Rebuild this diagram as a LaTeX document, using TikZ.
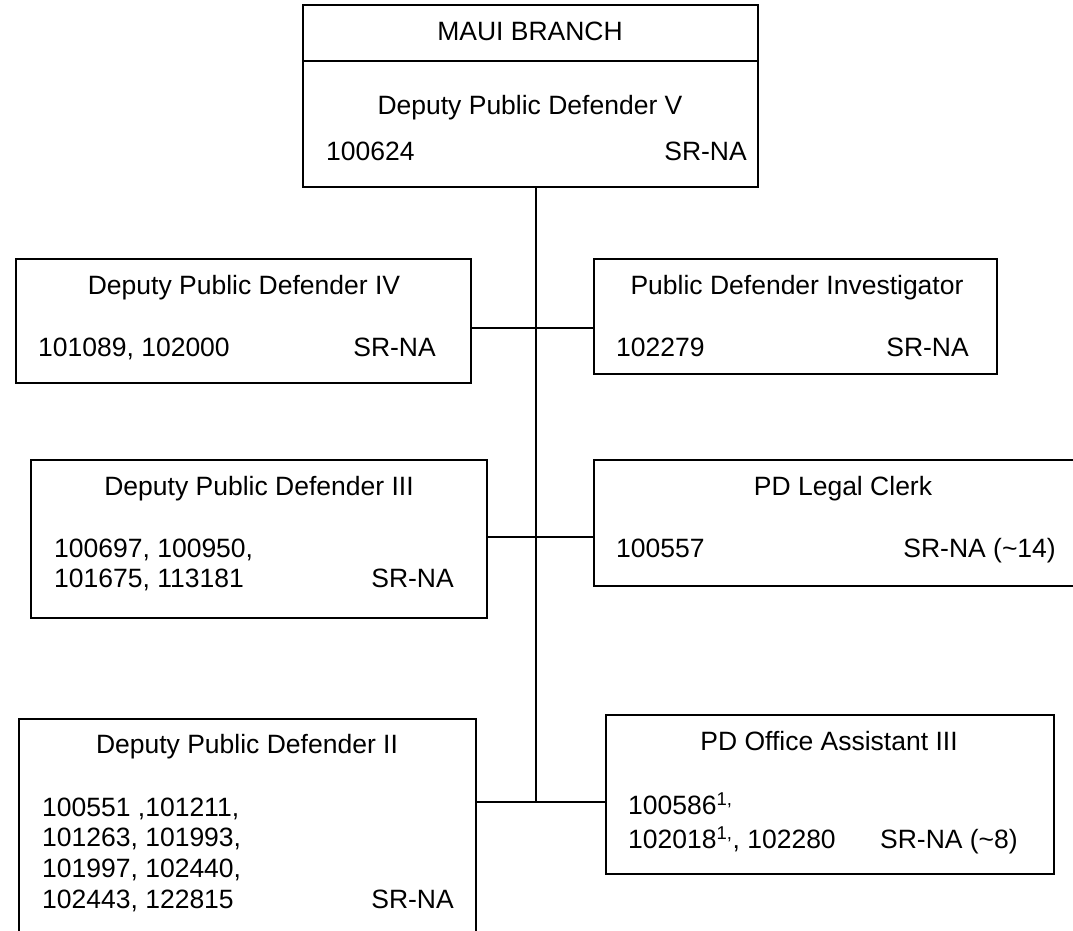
\documentclass[tikz,border=0pt]{standalone}
\usepackage{fontspec}
\setmainfont{Liberation Sans}
\usepackage{tikz}

\tikzset{
  post/.style={draw, line width=2pt, inner sep=0pt},
  lbl/.style={inner sep=0pt, text height=19pt, text depth=0pt, font=\fontsize{26.5}{30}\selectfont},
  link/.style={line width=2pt}
}

\begin{document}
\begin{tikzpicture}[x=1pt,y=-1pt]
      \useasboundingbox (0,0) rectangle (1073,930);
      % boxes
      \node[post, minimum width=455pt, minimum height=182pt] (V) at (530.5,96) {};
      \node[post, minimum width=455pt, minimum height=124pt] (IV) at (243.5,321) {};
      \node[post, minimum width=403pt, minimum height=115pt] (Inv) at (795.5,316.5) {};
      \node[post, minimum width=456pt, minimum height=158pt] (III) at (259,539) {};
      \node[post, minimum width=484pt, minimum height=126pt] (Clk) at (836,523) {};
      \node[post, minimum width=457pt, minimum height=216pt] (II) at (247.5,827) {};
      \node[post, minimum width=448pt, minimum height=159pt] (OA) at (830,794.5) {};
      \draw[link] ([yshift=-57pt]V.north west) -- ([yshift=-57pt]V.north east);
      % texts
      \node[lbl] (Vh) at (530,31) {MAUI BRANCH};
      \node[lbl] (Vt) at (530,105) {Deputy Public Defender V};
      \node[lbl, anchor=west] (Vn) at (326,151) {100624};
      \node[lbl, anchor=east] (Vs) at (747,151) {SR-NA};
      \node[lbl] (IVt) at (244,285) {Deputy Public Defender IV};
      \node[lbl, anchor=west] (IVn) at (38,347) {101089, 102000};
      \node[lbl, anchor=east] (IVs) at (436,347) {SR-NA};
      \node[lbl] (Invt) at (797,285) {Public Defender Investigator};
      \node[lbl, anchor=west] (Invn) at (616,347) {102279};
      \node[lbl, anchor=east] (Invs) at (969,347) {SR-NA};
      \node[lbl] (IIIt) at (259,486) {Deputy Public Defender III};
      \node[lbl, anchor=west] (IIIn1) at (54,548) {100697, 100950,};
      \node[lbl, anchor=west] (IIIn2) at (54,578) {101675, 113181};
      \node[lbl, anchor=east] (IIIs) at (454,578) {SR-NA};
      \node[lbl] (Clkt) at (843,486) {PD Legal Clerk};
      \node[lbl, anchor=west] (Clkn) at (616,548) {100557};
      \node[lbl, anchor=east] (Clks) at (1056,548) {SR-NA (\textasciitilde14)};
      \node[lbl] (IIt) at (247,744) {Deputy Public Defender II};
      \node[lbl, anchor=west] (IIn1) at (42,807) {100551 ,101211,};
      \node[lbl, anchor=west] (IIn2) at (42,837) {101263, 101993,};
      \node[lbl, anchor=west] (IIn3) at (42,868) {101997, 102440,};
      \node[lbl, anchor=west] (IIn4) at (42,899) {102443, 122815};
      \node[lbl, anchor=east] (IIs) at (454,899) {SR-NA};
      \node[lbl] (OAt) at (829,741) {PD Office Assistant III};
      \node[lbl, anchor=west] (OAn1) at (628,805) {100586\textsuperscript{1,}};
      \node[lbl, anchor=west] (OAn2) at (628,839) {102018\textsuperscript{1,}, 102280};
      \node[lbl, anchor=east] (OAs) at (1018,839) {SR-NA (\textasciitilde8)};
      % connectors
      \coordinate (J) at (536,802);
      \draw[link] (V.south -| J) -- (J);
      \draw[link] ([yshift=-7pt]IV.east) -- ([yshift=-7pt]IV.east -| Inv.west);
      \draw[link] ([yshift=2pt]III.east) -- ([yshift=2pt]III.east -| Clk.west);
      \draw[link] (II.east |- J) -- (OA.west |- J);
    \end{tikzpicture}
\end{document}
